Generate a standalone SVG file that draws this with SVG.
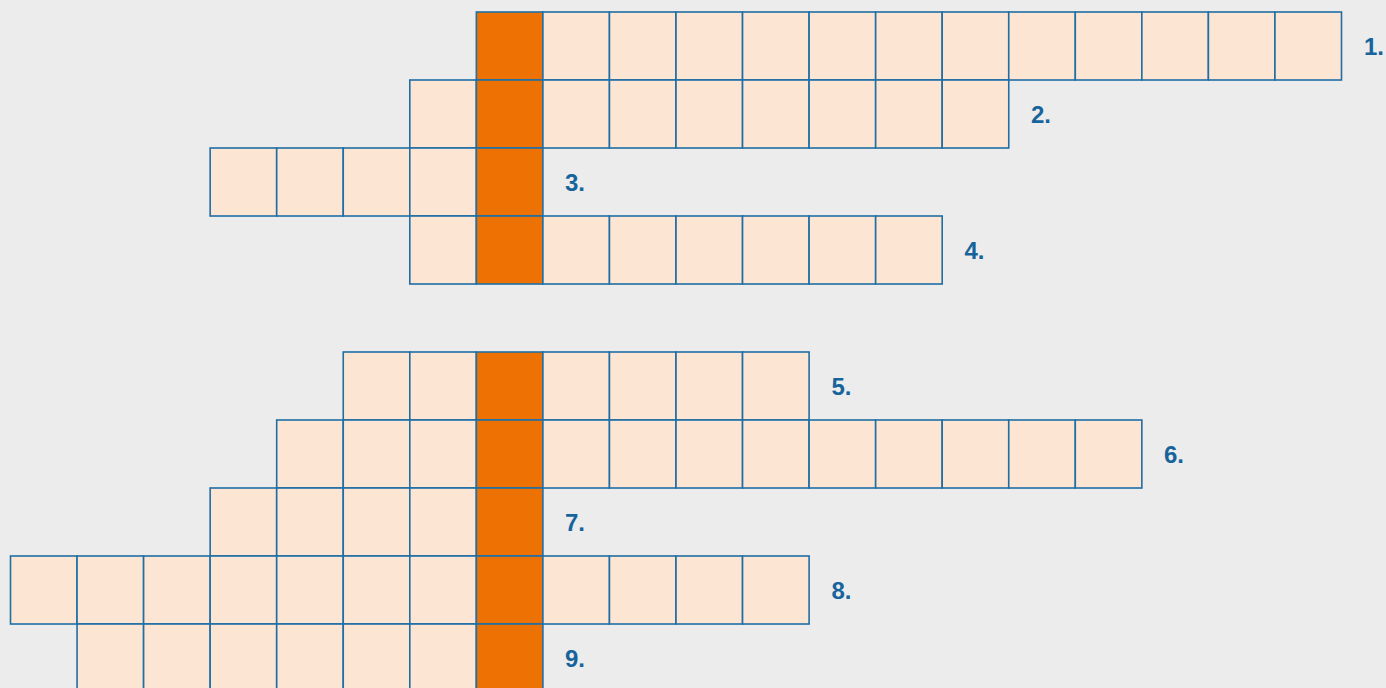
<svg xmlns="http://www.w3.org/2000/svg" width="1386" height="688" viewBox="0 0 1386 688">
<style>
.c{fill:#fde5d4;stroke:#1f6ea6;stroke-width:1.6}
.k{fill:#ee7203;stroke:#1f6ea6;stroke-width:1.6}
.t{font-family:"Liberation Sans",Arial,sans-serif;font-weight:bold;font-size:24px;fill:#17649c}
</style>
<rect width="1386" height="688" fill="#ececec"/>
<g id="row1">
<rect class="k" x="476.35" y="12" width="66.55" height="68"/>
<rect class="c" x="542.9" y="12" width="66.55" height="68"/>
<rect class="c" x="609.45" y="12" width="66.55" height="68"/>
<rect class="c" x="676" y="12" width="66.55" height="68"/>
<rect class="c" x="742.55" y="12" width="66.55" height="68"/>
<rect class="c" x="809.1" y="12" width="66.55" height="68"/>
<rect class="c" x="875.65" y="12" width="66.55" height="68"/>
<rect class="c" x="942.2" y="12" width="66.55" height="68"/>
<rect class="c" x="1008.75" y="12" width="66.55" height="68"/>
<rect class="c" x="1075.3" y="12" width="66.55" height="68"/>
<rect class="c" x="1141.85" y="12" width="66.55" height="68"/>
<rect class="c" x="1208.4" y="12" width="66.55" height="68"/>
<rect class="c" x="1274.95" y="12" width="66.55" height="68"/>
<text class="t" x="1364" y="55">1.</text>
</g>
<g id="row2">
<rect class="c" x="409.8" y="80" width="66.55" height="68"/>
<rect class="k" x="476.35" y="80" width="66.55" height="68"/>
<rect class="c" x="542.9" y="80" width="66.55" height="68"/>
<rect class="c" x="609.45" y="80" width="66.55" height="68"/>
<rect class="c" x="676" y="80" width="66.55" height="68"/>
<rect class="c" x="742.55" y="80" width="66.55" height="68"/>
<rect class="c" x="809.1" y="80" width="66.55" height="68"/>
<rect class="c" x="875.65" y="80" width="66.55" height="68"/>
<rect class="c" x="942.2" y="80" width="66.55" height="68"/>
<text class="t" x="1031" y="123">2.</text>
</g>
<g id="row3">
<rect class="c" x="210.15" y="148" width="66.55" height="68"/>
<rect class="c" x="276.7" y="148" width="66.55" height="68"/>
<rect class="c" x="343.25" y="148" width="66.55" height="68"/>
<rect class="c" x="409.8" y="148" width="66.55" height="68"/>
<rect class="k" x="476.35" y="148" width="66.55" height="68"/>
<text class="t" x="565" y="191">3.</text>
</g>
<g id="row4">
<rect class="c" x="409.8" y="216" width="66.55" height="68"/>
<rect class="k" x="476.35" y="216" width="66.55" height="68"/>
<rect class="c" x="542.9" y="216" width="66.55" height="68"/>
<rect class="c" x="609.45" y="216" width="66.55" height="68"/>
<rect class="c" x="676" y="216" width="66.55" height="68"/>
<rect class="c" x="742.55" y="216" width="66.55" height="68"/>
<rect class="c" x="809.1" y="216" width="66.55" height="68"/>
<rect class="c" x="875.65" y="216" width="66.55" height="68"/>
<text class="t" x="964.5" y="259">4.</text>
</g>
<g id="row5">
<rect class="c" x="343.25" y="352" width="66.55" height="68"/>
<rect class="c" x="409.8" y="352" width="66.55" height="68"/>
<rect class="k" x="476.35" y="352" width="66.55" height="68"/>
<rect class="c" x="542.9" y="352" width="66.55" height="68"/>
<rect class="c" x="609.45" y="352" width="66.55" height="68"/>
<rect class="c" x="676" y="352" width="66.55" height="68"/>
<rect class="c" x="742.55" y="352" width="66.55" height="68"/>
<text class="t" x="831.5" y="395">5.</text>
</g>
<g id="row6">
<rect class="c" x="276.7" y="420" width="66.55" height="68"/>
<rect class="c" x="343.25" y="420" width="66.55" height="68"/>
<rect class="c" x="409.8" y="420" width="66.55" height="68"/>
<rect class="k" x="476.35" y="420" width="66.55" height="68"/>
<rect class="c" x="542.9" y="420" width="66.55" height="68"/>
<rect class="c" x="609.45" y="420" width="66.55" height="68"/>
<rect class="c" x="676" y="420" width="66.55" height="68"/>
<rect class="c" x="742.55" y="420" width="66.55" height="68"/>
<rect class="c" x="809.1" y="420" width="66.55" height="68"/>
<rect class="c" x="875.65" y="420" width="66.55" height="68"/>
<rect class="c" x="942.2" y="420" width="66.55" height="68"/>
<rect class="c" x="1008.75" y="420" width="66.55" height="68"/>
<rect class="c" x="1075.3" y="420" width="66.55" height="68"/>
<text class="t" x="1164" y="463">6.</text>
</g>
<g id="row7">
<rect class="c" x="210.15" y="488" width="66.55" height="68"/>
<rect class="c" x="276.7" y="488" width="66.55" height="68"/>
<rect class="c" x="343.25" y="488" width="66.55" height="68"/>
<rect class="c" x="409.8" y="488" width="66.55" height="68"/>
<rect class="k" x="476.35" y="488" width="66.55" height="68"/>
<text class="t" x="565" y="531">7.</text>
</g>
<g id="row8">
<rect class="c" x="10.5" y="556" width="66.55" height="68"/>
<rect class="c" x="77.05" y="556" width="66.55" height="68"/>
<rect class="c" x="143.6" y="556" width="66.55" height="68"/>
<rect class="c" x="210.15" y="556" width="66.55" height="68"/>
<rect class="c" x="276.7" y="556" width="66.55" height="68"/>
<rect class="c" x="343.25" y="556" width="66.55" height="68"/>
<rect class="c" x="409.8" y="556" width="66.55" height="68"/>
<rect class="k" x="476.35" y="556" width="66.55" height="68"/>
<rect class="c" x="542.9" y="556" width="66.55" height="68"/>
<rect class="c" x="609.45" y="556" width="66.55" height="68"/>
<rect class="c" x="676" y="556" width="66.55" height="68"/>
<rect class="c" x="742.55" y="556" width="66.55" height="68"/>
<text class="t" x="831.5" y="599">8.</text>
</g>
<g id="row9">
<rect class="c" x="77.05" y="624" width="66.55" height="68"/>
<rect class="c" x="143.6" y="624" width="66.55" height="68"/>
<rect class="c" x="210.15" y="624" width="66.55" height="68"/>
<rect class="c" x="276.7" y="624" width="66.55" height="68"/>
<rect class="c" x="343.25" y="624" width="66.55" height="68"/>
<rect class="c" x="409.8" y="624" width="66.55" height="68"/>
<rect class="k" x="476.35" y="624" width="66.55" height="68"/>
<text class="t" x="565" y="667">9.</text>
</g>
<g id="connectors"/>
</svg>
